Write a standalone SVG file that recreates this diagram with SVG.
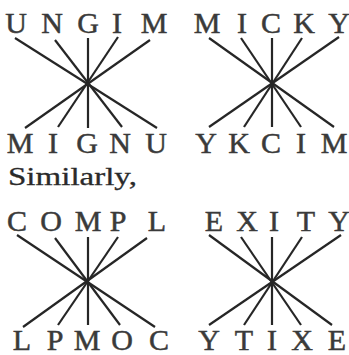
<svg xmlns="http://www.w3.org/2000/svg" width="349" height="355" viewBox="0 0 349 355">
<style>
.l{font-family:"Liberation Serif","Times New Roman",serif;font-size:30px;fill:#3a3a3a;stroke:#3a3a3a;stroke-width:0.5;text-anchor:middle}
.s{font-family:"Liberation Serif","Times New Roman",serif;font-size:25px;fill:#2a2a2a;stroke:#2a2a2a;stroke-width:0.3}
.c line{stroke:#262626;stroke-width:2.2;stroke-linecap:butt}
</style>
<rect width="349" height="355" fill="#fff"/>
<g id="connectors" class="c">
<line x1="15" y1="38" x2="157" y2="128"/>
<line x1="55" y1="40" x2="122" y2="127"/>
<line x1="88" y1="38" x2="88" y2="128"/>
<line x1="118" y1="37" x2="58" y2="127"/>
<line x1="150" y1="40" x2="25" y2="128"/>
<line x1="209" y1="38" x2="334" y2="127"/>
<line x1="241" y1="38" x2="301" y2="127"/>
<line x1="272" y1="38" x2="272" y2="127"/>
<line x1="302" y1="38" x2="244" y2="127"/>
<line x1="339" y1="37" x2="209" y2="127"/>
<line x1="17" y1="235" x2="155" y2="327"/>
<line x1="55" y1="238" x2="120" y2="325"/>
<line x1="88" y1="237" x2="88" y2="325"/>
<line x1="118" y1="237" x2="58" y2="325"/>
<line x1="147" y1="238" x2="23" y2="327"/>
<line x1="209" y1="235" x2="332" y2="325"/>
<line x1="241" y1="237" x2="301" y2="325"/>
<line x1="272" y1="237" x2="272" y2="325"/>
<line x1="302" y1="237" x2="244" y2="325"/>
<line x1="341" y1="235" x2="209" y2="325"/>
</g>
<g id="ungim" class="l">
<text x="16" y="33">U</text><text x="52" y="33">N</text><text x="88" y="33">G</text><text x="117" y="33">I</text><text x="154" y="33">M</text>
</g>
<g id="mignu" class="l">
<text x="20" y="153">M</text><text x="53" y="153">I</text><text x="87" y="153">G</text><text x="120" y="153">N</text><text x="156" y="153">U</text>
</g>
<g id="micky" class="l">
<text x="207" y="33">M</text><text x="242" y="33">I</text><text x="271" y="33">C</text><text x="304" y="33">K</text><text x="339" y="33">Y</text>
</g>
<g id="ykcim" class="l">
<text x="206" y="153">Y</text><text x="239" y="153">K</text><text x="271" y="153">C</text><text x="301" y="153">I</text><text x="334" y="153">M</text>
</g>
<g id="similarly">
<text class="s" x="8" y="185" textLength="129" lengthAdjust="spacingAndGlyphs">Similarly,</text>
</g>
<g id="compl" class="l">
<text x="17" y="231">C</text><text x="51" y="231">O</text><text x="88" y="231">M</text><text x="118" y="231">P</text><text x="157" y="231">L</text>
</g>
<g id="lpmoc" class="l">
<text x="22" y="350">L</text><text x="55" y="350">P</text><text x="87" y="350">M</text><text x="122" y="350">O</text><text x="159" y="350">C</text>
</g>
<g id="exity" class="l">
<text x="214" y="231">E</text><text x="247" y="231">X</text><text x="274" y="231">I</text><text x="306" y="231">T</text><text x="339" y="231">Y</text>
</g>
<g id="ytixe" class="l">
<text x="209" y="350">Y</text><text x="244" y="350">T</text><text x="272" y="350">I</text><text x="302" y="350">X</text><text x="337" y="350">E</text>
</g>
</svg>
